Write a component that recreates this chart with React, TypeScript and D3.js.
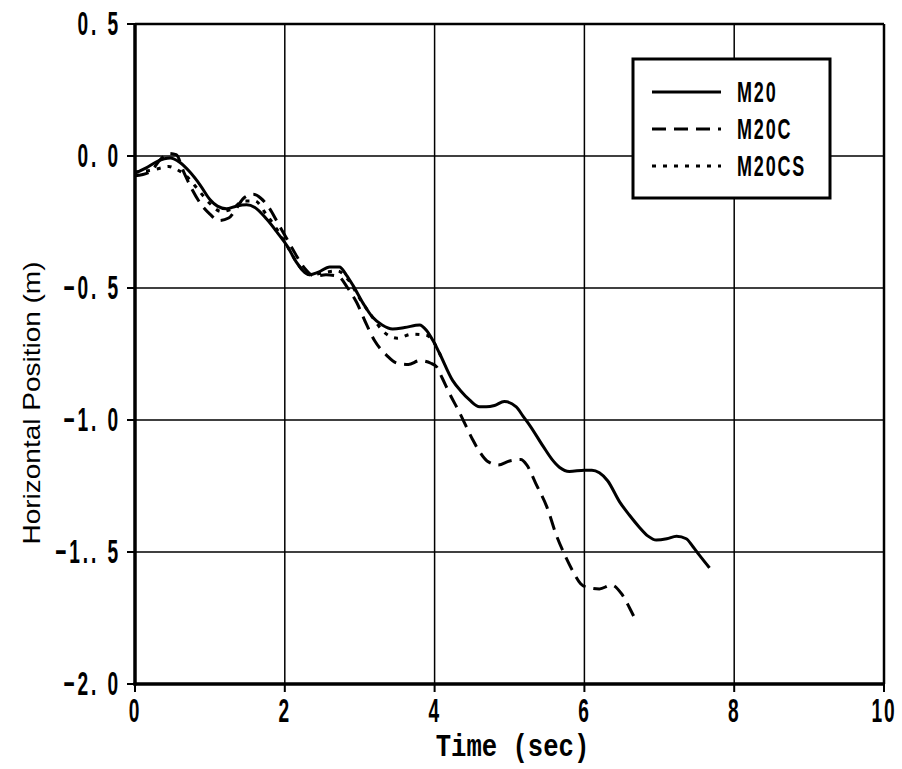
import React, { useEffect, useRef } from "react";
import * as d3 from "d3";

const m20T = [0, 0.15, 0.3, 0.47, 0.6, 0.73, 0.87, 1.0, 1.1, 1.22, 1.35, 1.49, 1.6, 1.76, 1.9, 2.03, 2.15, 2.33, 2.45, 2.6, 2.73, 2.82, 2.91, 3.05, 3.17, 3.3, 3.44, 3.6, 3.8, 3.89, 3.98, 4.07, 4.24, 4.35, 4.47, 4.6, 4.69, 4.8, 4.93, 5.09, 5.18, 5.27, 5.45, 5.57, 5.67, 5.8, 6.0, 6.1, 6.2, 6.31, 6.47, 6.6, 6.73, 6.85, 6.96, 7.1, 7.23, 7.36, 7.45, 7.53, 7.67];
const m20V = [-0.065, -0.045, -0.02, -0.008, -0.025, -0.06, -0.11, -0.165, -0.19, -0.2, -0.19, -0.185, -0.195, -0.24, -0.29, -0.34, -0.4, -0.45, -0.44, -0.42, -0.42, -0.45, -0.49, -0.56, -0.61, -0.64, -0.655, -0.65, -0.64, -0.66, -0.7, -0.75, -0.85, -0.89, -0.925, -0.95, -0.95, -0.945, -0.93, -0.95, -0.985, -1.02, -1.1, -1.15, -1.18, -1.195, -1.19, -1.19, -1.2, -1.23, -1.31, -1.36, -1.405, -1.44, -1.455, -1.45, -1.44, -1.45, -1.48, -1.51, -1.56];

const m20cT = [0, 0.2, 0.35, 0.45, 0.55, 0.65, 0.75, 0.9, 1.0, 1.12, 1.25, 1.35, 1.45, 1.58, 1.68, 1.8, 1.9, 2.0, 2.1, 2.25, 2.4, 2.55, 2.71, 2.84, 2.96, 3.07, 3.2, 3.36, 3.5, 3.65, 3.8, 3.95, 4.03, 4.1, 4.2, 4.33, 4.5, 4.6, 4.7, 4.85, 5.0, 5.15, 5.23, 5.35, 5.5, 5.63, 5.72, 5.85, 5.95, 6.05, 6.2, 6.36, 6.5, 6.6, 6.67];
const m20cV = [-0.075, -0.06, -0.01, 0.01, 0.005, -0.06, -0.12, -0.19, -0.22, -0.245, -0.235, -0.2, -0.16, -0.145, -0.16, -0.2, -0.25, -0.3, -0.35, -0.42, -0.455, -0.45, -0.455, -0.5, -0.555, -0.625, -0.7, -0.755, -0.785, -0.79, -0.775, -0.785, -0.8, -0.84, -0.9, -0.97, -1.07, -1.12, -1.155, -1.17, -1.155, -1.15, -1.17, -1.24, -1.33, -1.44, -1.5, -1.575, -1.62, -1.635, -1.64, -1.625, -1.66, -1.71, -1.75];

const m20csT = [0, 0.2, 0.35, 0.45, 0.55, 0.7, 0.85, 1.0, 1.15, 1.3, 1.45, 1.6, 1.75, 1.9, 2.05, 2.2, 2.35, 2.55, 2.7, 2.85, 3.0, 3.17, 3.3, 3.5, 3.7, 3.9, 4.0, 4.1];
const m20csV = [-0.06, -0.055, -0.045, -0.04, -0.05, -0.08, -0.13, -0.18, -0.21, -0.2, -0.17, -0.17, -0.22, -0.28, -0.35, -0.42, -0.45, -0.44, -0.435, -0.47, -0.54, -0.61, -0.66, -0.69, -0.675, -0.68, -0.71, -0.77];

const xTicks = [0, 2, 4, 6, 8, 10];
const xTickLabels = ["0", "2", "4", "6", "8", "10"];
const yTicks = [0.5, 0, -0.5, -1.0, -1.5, -2.0];
const yTickLabels = ["0. 5", "0. 0", "\u22120. 5", "\u22121. 0", "\u22121.. 5", "\u22122. 0"];

const seriesNames = ["M20", "M20C", "M20CS"];
const seriesDash = [null, "14,8", "4,7"];

const W = 902;
const H = 769;
const L = 135, R = 884, T = 24, B = 684;

export default function App() {
  const ref = useRef<SVGSVGElement | null>(null);
  useEffect(() => {
    const svg = d3.select(ref.current);
    svg.selectAll("*").remove();
    const x = d3.scaleLinear().domain([0, 10]).range([L, R]);
    const y = d3.scaleLinear().domain([-2, 0.5]).range([B, T]);
    const narrowFont = "'Liberation Sans', Arial, sans-serif";

    svg.append("rect").attr("width", W).attr("height", H).attr("fill", "#fff");
    const g = svg.append("g");

    const narrowText = (px: number, py: number, txt: string, anchor: string, size: number, sx: number, family = narrowFont, ls = 0) => {
      const gg = g.append("g").attr("transform", `translate(${px},${py}) scale(${sx},1)`);
      gg.append("text").attr("x", 0).attr("y", 0).attr("text-anchor", anchor)
        .attr("font-family", family).attr("font-weight", "bold").attr("font-size", size)
        .attr("letter-spacing", ls).attr("xml:space", "preserve").text(txt);
      return gg;
    };

    // grid
    xTicks.forEach((t) => {
      g.append("line").attr("x1", x(t)).attr("x2", x(t)).attr("y1", T).attr("y2", B)
        .attr("stroke", "#000").attr("stroke-width", 1.5);
    });
    yTicks.forEach((t) => {
      g.append("line").attr("x1", L).attr("x2", R).attr("y1", y(t)).attr("y2", y(t))
        .attr("stroke", "#000").attr("stroke-width", 1.5);
    });
    // frame
    g.append("line").attr("x1", L).attr("x2", R).attr("y1", T).attr("y2", T).attr("stroke", "#000").attr("stroke-width", 2.5);
    g.append("line").attr("x1", R).attr("x2", R).attr("y1", T).attr("y2", B).attr("stroke", "#000").attr("stroke-width", 2.5);
    g.append("line").attr("x1", L).attr("x2", L).attr("y1", T).attr("y2", B + 1.5).attr("stroke", "#000").attr("stroke-width", 3.5);
    g.append("line").attr("x1", L - 1.5).attr("x2", R).attr("y1", B).attr("y2", B).attr("stroke", "#000").attr("stroke-width", 3.5);

    // ticks
    yTicks.forEach((t, i) => {
      g.append("line").attr("x1", L - 8).attr("x2", L).attr("y1", y(t)).attr("y2", y(t)).attr("stroke", "#000").attr("stroke-width", 2);
      narrowText(L - 14, y(t) + 11, yTickLabels[i], "end", 33, 0.58, narrowFont, 5);
    });
    xTicks.forEach((t, i) => {
      g.append("line").attr("x1", x(t)).attr("x2", x(t)).attr("y1", B).attr("y2", B + 8).attr("stroke", "#000").attr("stroke-width", 2);
      narrowText(x(t), B + 38, xTickLabels[i], "middle", 33, 0.58, narrowFont, 3);
    });

    // axis titles
    narrowText((L + R) / 2 + 3, 756, "Time (sec)", "middle", 32, 0.8, "'Liberation Mono', 'DejaVu Sans Mono', monospace", 0);
    g.append("text").attr("transform", `translate(40, ${(T + B) / 2 + 49}) rotate(-90)`)
      .attr("text-anchor", "middle").attr("font-family", "'Liberation Sans', Arial, sans-serif")
      .attr("font-size", 24).attr("textLength", 283).attr("lengthAdjust", "spacingAndGlyphs")
      .text("Horizontal Position (m)");

    // lines
    const line = d3.line<[number, number]>().x((d) => x(d[0])).y((d) => y(d[1])).curve(d3.curveMonotoneX);
    const datasets: [number, number][][] = [
      m20T.map((t, i) => [t, m20V[i]]),
      m20cT.map((t, i) => [t, m20cV[i]]),
      m20csT.map((t, i) => [t, m20csV[i]]),
    ];
    datasets.forEach((d, i) => {
      const p = g.append("path").attr("d", line(d) as string).attr("fill", "none")
        .attr("stroke", "#000").attr("stroke-width", 3).attr("stroke-linejoin", "round");
      if (seriesDash[i]) p.attr("stroke-dasharray", seriesDash[i] as string);
    });

    // legend
    g.append("rect").attr("x", 633).attr("y", 59).attr("width", 197).attr("height", 139)
      .attr("fill", "#fff").attr("stroke", "#000").attr("stroke-width", 3);
    seriesNames.forEach((n, i) => {
      const yy = 92 + i * 37;
      const l = g.append("line").attr("x1", 652).attr("x2", 721).attr("y1", yy).attr("y2", yy)
        .attr("stroke", "#000").attr("stroke-width", 3);
      if (seriesDash[i]) l.attr("stroke-dasharray", seriesDash[i] as string);
      narrowText(737, yy + 10, n, "start", 29, 0.62, narrowFont, 3);
    });
  }, []);
  return (
    <svg ref={ref} width={W} height={H} style={{ position: "absolute", left: 0, top: 0 }} />
  );
}
